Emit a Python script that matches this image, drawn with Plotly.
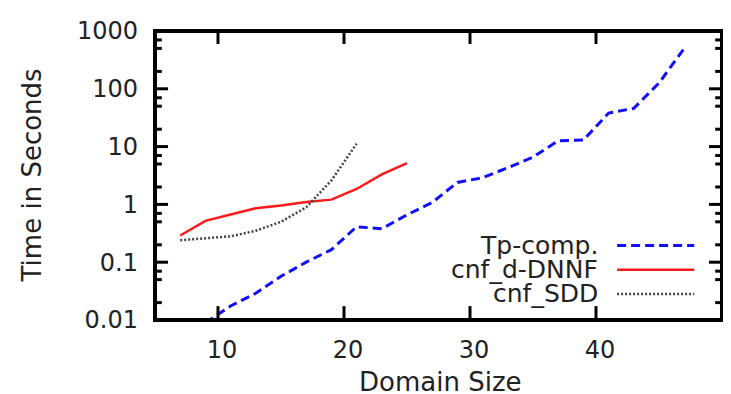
import math
import plotly.graph_objects as go

# domain sizes (odd values) and run times in seconds
tp_x = [9, 11, 13, 15, 17, 19, 21, 23, 25, 27, 29, 31, 33, 35, 37, 39, 41, 43, 45, 47]
tp_y = [0.009, 0.0175, 0.029, 0.057, 0.1, 0.165, 0.41, 0.38, 0.66, 1.08, 2.4, 2.9,
        4.3, 6.6, 12.6, 13, 38, 46, 126, 500]

dnnf_x = [7, 9, 11, 13, 15, 17, 19, 21, 23, 25]
dnnf_y = [0.29, 0.52, 0.67, 0.86, 0.96, 1.1, 1.21, 1.85, 3.3, 5.2]

sdd_x = [7, 9, 11, 13, 15, 17, 19, 21]
sdd_y = [0.24, 0.26, 0.28, 0.35, 0.5, 0.89, 2.6, 11.2]

x_ticks = [10, 20, 30, 40]
y_ticks = [0.01, 0.1, 1, 10, 100, 1000]
y_ticktext = ["0.01", "0.1", "1", "10", "100", "1000"]
y_minor = [m * 10 ** k for k in range(-2, 3) for m in (2, 5, 7)]

X_RANGE = [5, 50]
Y_RANGE = [-2, 3]  # log10

series = [
    ("Tp-comp.", tp_x, tp_y, dict(color="#1010ff", width=3, dash="9px,5px")),
    ("cnf_d-DNNF", dnnf_x, dnnf_y, dict(color="#ff1a1a", width=2.5)),
    ("cnf_SDD", sdd_x, sdd_y, dict(color="#444444", width=2.5, dash="2px,2px")),
]

FONT = "DejaVu Sans"
TXT = "#222222"

fig = go.Figure()
for name, xs, ys, line in series:
    fig.add_trace(go.Scatter(x=xs, y=ys, mode="lines", name=name, line=line,
                             showlegend=False))

# gnuplot-style key: text on the left, sample line on the right
key_rows = [0.258, 0.174, 0.090]
for (name, xs, ys, line), yp in zip(series, key_rows):
    fig.add_annotation(x=0.785, y=yp, xref="paper", yref="paper", text=name,
                       showarrow=False, xanchor="right", yanchor="middle",
                       font=dict(family=FONT, size=25, color=TXT))
    fig.add_shape(type="line", xref="paper", yref="paper",
                  x0=0.815, x1=0.951, y0=yp, y1=yp, line=line)

# frame and tick marks (drawn as shapes, gnuplot style: inside, mirrored)
frame = dict(color="black", width=4)
fig.add_shape(type="rect", xref="paper", yref="paper", x0=0, x1=1, y0=0, y1=1,
              line=frame, layer="above")

def x_frac(v):
    return (v - X_RANGE[0]) / (X_RANGE[1] - X_RANGE[0])

def y_frac(v):
    return (math.log10(v) - Y_RANGE[0]) / (Y_RANGE[1] - Y_RANGE[0])

tick = dict(color="black", width=3)
for v in x_ticks:
    xf = x_frac(v)
    fig.add_shape(type="line", xref="paper", yref="paper", x0=xf, x1=xf,
                  y0=0, y1=0.048, line=tick)
    fig.add_shape(type="line", xref="paper", yref="paper", x0=xf, x1=xf,
                  y0=1, y1=1 - 0.045, line=tick)
for v, ln in [(t, 0.023) for t in y_ticks] + [(t, 0.012) for t in y_minor]:
    yf = y_frac(v)
    fig.add_shape(type="line", xref="paper", yref="paper", x0=0, x1=ln,
                  y0=yf, y1=yf, line=tick)
    fig.add_shape(type="line", xref="paper", yref="paper", x0=1, x1=1 - ln,
                  y0=yf, y1=yf, line=tick)

fig.update_xaxes(
    range=X_RANGE, tickvals=x_ticks,
    showline=False, ticks="", showgrid=False, zeroline=False,
    tickfont=dict(family=FONT, size=24, color=TXT),
    ticklabelstandoff=13, ticklabelshift=4, ticklabeloverflow="allow",
)
fig.update_yaxes(
    type="log", range=Y_RANGE, tickvals=y_ticks, ticktext=y_ticktext,
    showline=False, ticks="", showgrid=False, zeroline=False,
    tickfont=dict(family=FONT, size=24, color=TXT),
    ticklabelstandoff=16, ticklabeloverflow="allow",
)

# axis titles
fig.add_annotation(x=0.504, y=-0.216, xref="paper", yref="paper", text="Domain Size",
                   showarrow=False, xanchor="center", yanchor="middle",
                   font=dict(family=FONT, size=26, color=TXT))
fig.add_annotation(x=-0.217, y=0.5, xref="paper", yref="paper", text="Time in Seconds",
                   showarrow=False, xanchor="center", yanchor="middle", textangle=-90,
                   font=dict(family=FONT, size=26, color=TXT))

# the page body adds an 8px offset, so the figure is 8px smaller and margins shifted
fig.update_layout(
    width=723, height=386,
    margin=dict(l=147, r=9, t=13, b=74),
    paper_bgcolor="white", plot_bgcolor="white",
    showlegend=False,
)

fig.write_html("out.html")
